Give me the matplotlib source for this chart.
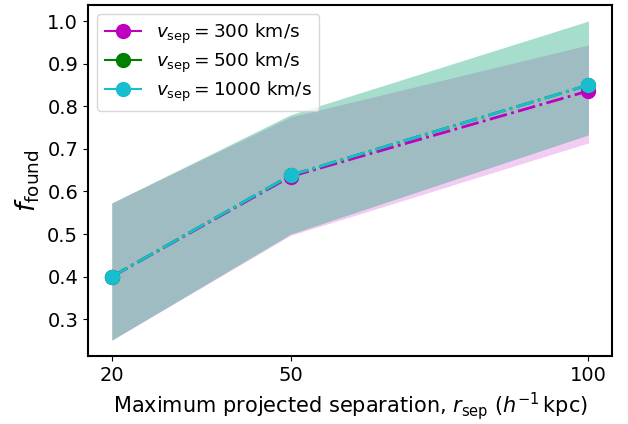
import numpy as np
import matplotlib.pyplot as plt
from matplotlib.lines import Line2D

# Maximum projected separation (h^-1 kpc)
r_sep = [20, 50, 100]

# f_found for each velocity cut, with the band limits
f_300 = [0.40, 0.635, 0.836]
lo_300 = [0.251, 0.497, 0.714]
hi_300 = [0.573, 0.775, 0.944]

f_500 = [0.40, 0.638, 0.850]
lo_500 = [0.251, 0.500, 0.733]
hi_500 = [0.573, 0.780, 1.000]

f_1000 = [0.40, 0.638, 0.850]
lo_1000 = [0.251, 0.500, 0.733]
hi_1000 = [0.573, 0.780, 1.000]

labels = [r"$v_{\rm sep} = 300$ km/s", r"$v_{\rm sep} = 500$ km/s", r"$v_{\rm sep} = 1000$ km/s"]
colors = ["m", "g", "tab:cyan"]

fig = plt.figure(figsize=(6.28, 4.24), dpi=100)
ax = fig.add_axes([0.140, 0.160, 0.835, 0.828])

series = [(f_300, lo_300, hi_300), (f_500, lo_500, hi_500), (f_1000, lo_1000, hi_1000)]
for (f, lo, hi), c in zip(series, colors):
    ax.fill_between(r_sep, lo, hi, color=c, alpha=0.2, linewidth=0)
for (f, lo, hi), c in zip(series, colors):
    ax.plot(r_sep, f, "-.", color=c, marker="o", markersize=10, linewidth=2)

handles = [Line2D([], [], color=c, marker="o", markersize=10, linewidth=1.5) for c in colors]
ax.legend(handles, labels, loc="upper left", fontsize=13.3, labelspacing=0.25)

ax.set_xticks(r_sep)
ax.set_xticklabels([str(r) for r in r_sep])
ax.tick_params(labelsize=14)
ax.set_xlabel(r"Maximum projected separation, $r_{\rm sep}$ ($h^{-1}\,$kpc)", fontsize=15)
ax.set_ylabel(r"$f_{\rm found}$", fontsize=19)
for s in ax.spines.values():
    s.set_linewidth(1.5)

fig.savefig("out.png", dpi=100)
